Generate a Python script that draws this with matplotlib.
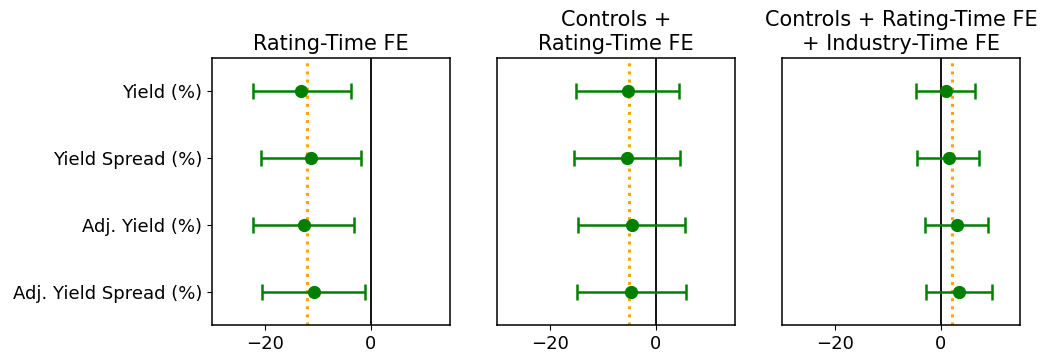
import numpy as np
import matplotlib
matplotlib.use("Agg")
import matplotlib.pyplot as plt

# 变量名称
labels = ['Yield (%)', 'Yield Spread (%)', 'Adj. Yield (%)', 'Adj. Yield Spread (%)']

# 各面板标题
titles = ['Rating-Time FE',
          'Controls +\nRating-Time FE',
          'Controls + Rating-Time FE\n+ Industry-Time FE']

# 点估计
coef1 = [-13.1, -11.2, -12.7, -10.8]
coef2 = [-5.3, -5.5, -4.5, -4.6]
coef3 = [0.95, 1.5, 3.0, 3.5]

# 置信区间下限/上限
lo1 = [-22.3, -20.7, -22.2, -20.6]
hi1 = [-3.8, -1.8, -3.2, -1.1]
lo2 = [-15.0, -15.4, -14.6, -14.9]
hi2 = [4.5, 4.6, 5.6, 5.8]
lo3 = [-4.6, -4.5, -3.0, -2.8]
hi3 = [6.5, 7.2, 8.9, 9.8]

# 平均效应（橙色虚线）
mean_eff = [-12.0, -5.0, 2.1]

panels = [(coef1, lo1, hi1), (coef2, lo2, hi2), (coef3, lo3, hi3)]

fig = plt.figure(figsize=(10.47, 3.58), dpi=100)
lefts = [0.2025, 0.4747, 0.7469]
y = np.arange(len(labels))

for i, (coef, lo, hi) in enumerate(panels):
    ax = fig.add_axes([lefts[i], 0.0922, 0.2273, 0.7458])
    coef = np.array(coef)
    err = np.vstack([coef - np.array(lo), np.array(hi) - coef])
    ax.axvline(0, color='black', linewidth=1.3, zorder=1)
    ax.axvline(mean_eff[i], color='orange', linestyle=':', linewidth=2.2, zorder=2)
    ax.errorbar(coef, y, xerr=err, fmt='o', color='green', markersize=8.5,
                capsize=6, elinewidth=1.8, capthick=1.8, zorder=3)
    ax.set_xlim(-30, 15)
    ax.set_ylim(3.5, -0.5)
    ax.set_xticks([-20, 0])
    ax.tick_params(axis='x', labelsize=13)
    for s in ax.spines.values():
        s.set_linewidth(1.1)
    if i == 0:
        ax.set_yticks(y)
        ax.set_yticklabels(labels, fontsize=13)
    else:
        ax.set_yticks([])
    ax.set_title(titles[i], fontsize=15)

plt.savefig('out.png', dpi=100)
